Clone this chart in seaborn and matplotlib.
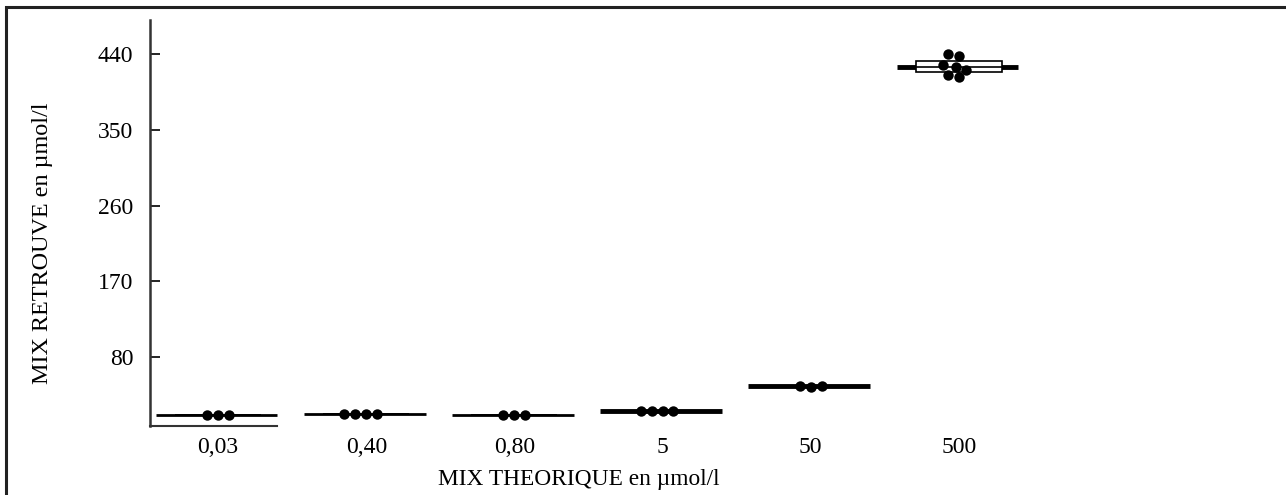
import numpy as np
import pandas as pd
import seaborn as sns
import matplotlib.pyplot as plt
from matplotlib.patches import Rectangle

sns.set_theme(style='white')
plt.rcParams['font.family'] = ['Liberation Serif', 'DejaVu Serif']

# Theoretical concentrations (categories) and measured values per replicate
CATEGORIES = ['0,03', '0,40', '0,80', '5', '50', '500']
MIX_003 = [10.8, 11.0, 11.2]
MIX_040 = [12.0, 12.1, 12.2, 12.4]
MIX_080 = [10.9, 11.1, 11.3]
MIX_5 = [15.8, 16.0, 16.1, 16.3]
MIX_50 = [44.8, 45.3, 45.8]
MIX_500 = [413, 416, 422, 425, 427, 438, 440]
Y_TICKS = [80, 170, 260, 350, 440]

groups = [MIX_003, MIX_040, MIX_080, MIX_5, MIX_50, MIX_500]
df = pd.DataFrame({
    'theo': np.concatenate([[c] * len(g) for c, g in zip(CATEGORIES, groups)]),
    'found': np.concatenate(groups),
})

fig = plt.figure(figsize=(12.86, 4.95), dpi=100)
ax = fig.add_axes([150 / 1286, 69 / 495, 1105 / 1286, 406 / 495])

# median bar across each group
medians = df.groupby('theo', sort=False)['found'].median()
pos = np.arange(len(medians))
widths = [2, 2, 2, 3.5, 3.5, 3.5]
ax.hlines(medians.values, pos - 0.42, pos + 0.4, color='black', lw=widths, zorder=2)

sns.boxplot(data=df, x='theo', y='found', order=CATEGORIES, ax=ax, width=0.58,
            color='white', linecolor='black', linewidth=1.2, whis=1.5,
            showcaps=False, fliersize=0, zorder=3)
sns.swarmplot(data=df, x='theo', y='found', order=CATEGORIES, ax=ax,
              color='black', size=7.5, zorder=4)

ax.set_xlim(-0.46, 7.0)
ax.set_ylim(-2, 481)
ax.set_yticks(Y_TICKS)
ax.tick_params(axis='y', direction='in', length=7, width=1.2, pad=12,
               labelsize=17, colors='black', left=True)
ax.tick_params(axis='x', length=0, pad=8, labelsize=17, colors='black')

for side in ['top', 'right']:
    ax.spines[side].set_visible(False)
ax.spines['left'].set_color('#333333')
ax.spines['left'].set_linewidth(1.8)
ax.spines['bottom'].set_color('#333333')
ax.spines['bottom'].set_linewidth(1.5)
ax.spines['bottom'].set_bounds(-0.46, 0.4)

ax.set_xlabel('MIX THEORIQUE en µmol/l', fontsize=16.8, color='black')
ax.xaxis.set_label_coords(0.388, -0.105)
ax.set_ylabel('MIX RETROUVE en µmol/l', fontsize=17.4, color='black')
ax.yaxis.set_label_coords(-0.088, 0.45)

# frame around the figure
fig.add_artist(Rectangle((6 / 1286, -0.1), 1.1, (495 - 7) / 495 + 0.1,
                         transform=fig.transFigure, fill=False,
                         edgecolor='#222222', lw=2.2, clip_on=False))

plt.savefig('out.png', dpi=100)
plt.close()
